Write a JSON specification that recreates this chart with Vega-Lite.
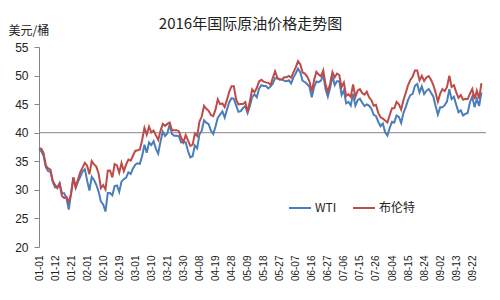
{
"$schema": "https://vega.github.io/schema/vega-lite/v6.json",
"width": 447, "height": 200,
"autosize": {"type": "none"},
"padding": {"left": 39, "top": 47, "right": 14, "bottom": 53},
"background": "white",
"title": {"text": "2016年国际原油价格走势图", "font": "Noto Sans CJK SC", "fontSize": 15, "fontWeight": "normal", "color": "#222222", "anchor": "middle", "frame": "group", "dx": -12, "dy": 14, "offset": 6},
"config": {"view": {"stroke": null}, "font": "Liberation Sans",
 "axisY": {"title": "美元/桶", "titleAngle": 0, "titleAlign": "left", "titleBaseline": "alphabetic", "titleX": -31, "titleY": -13, "titleFont": "Noto Sans CJK SC", "titleFontSize": 12, "titleFontWeight": "normal", "titleColor": "#222222",
    "values": [20, 25, 30, 35, 40, 45, 50, 55], "labelOverlap": false, "grid": false, "domainColor": "#868686", "tickColor": "#868686", "tickSize": 5, "labelPadding": 6, "labelFontSize": 12, "labelColor": "#222222", "labelFont": "Liberation Sans"}},
"layer": [
{"data": {"values": [{"y": 40}]},
 "mark": {"type": "rule", "color": "#868686", "strokeWidth": 1},
 "encoding": {"y": {"datum": 40, "type": "quantitative", "scale": {"domain": [20, 55], "nice": false, "zero": false},
   "axis": {"title": "美元/桶", "values": [20, 25, 30, 35, 40, 45, 50, 55], "tickCount": 8}}}},
{"data": {"values": [
{"d":"01-01","WTI":37.04,"布伦特":37.28},{"d":"01-04","WTI":36.76,"布伦特":37.22},{"d":"01-05","WTI":35.97,"布伦特":36.42},{"d":"01-06","WTI":33.97,"布伦特":34.23},{"d":"01-07","WTI":33.27,"布伦特":33.75},{"d":"01-08","WTI":33.16,"布伦特":33.55},
{"d":"01-11","WTI":31.41,"布伦特":31.55},{"d":"01-12","WTI":30.44,"布伦特":30.86},{"d":"01-13","WTI":30.48,"布伦特":30.31},{"d":"01-14","WTI":31.2,"布伦特":31.03},{"d":"01-15","WTI":29.42,"布伦特":28.94},
{"d":"01-18","WTI":29.42,"布伦特":28.55},{"d":"01-19","WTI":28.46,"布伦特":28.76},{"d":"01-20","WTI":26.55,"布伦特":27.88},{"d":"01-21","WTI":29.53,"布伦特":29.25},{"d":"01-22","WTI":32.19,"布伦特":32.18},
{"d":"01-25","WTI":30.34,"布伦特":30.5},{"d":"01-26","WTI":31.45,"布伦特":31.8},{"d":"01-27","WTI":32.3,"布伦特":33.1},{"d":"01-28","WTI":33.22,"布伦特":33.89},{"d":"01-29","WTI":33.62,"布伦特":34.74},
{"d":"02-01","WTI":31.62,"布伦特":34.24},{"d":"02-02","WTI":29.88,"布伦特":32.72},{"d":"02-03","WTI":32.28,"布伦特":35.04},{"d":"02-04","WTI":31.72,"布伦特":34.46},{"d":"02-05","WTI":30.89,"布伦特":34.06},
{"d":"02-08","WTI":29.69,"布伦特":32.88},{"d":"02-09","WTI":27.94,"布伦特":30.32},{"d":"02-10","WTI":27.45,"布伦特":30.84},{"d":"02-11","WTI":26.21,"布伦特":30.06},{"d":"02-12","WTI":29.44,"布伦特":33.36},
{"d":"02-15","WTI":29.44,"布伦特":33.39},{"d":"02-16","WTI":29.04,"布伦特":32.18},{"d":"02-17","WTI":30.66,"布伦特":34.5},{"d":"02-18","WTI":30.77,"布伦特":34.28},{"d":"02-19","WTI":29.64,"布伦特":33.01},
{"d":"02-22","WTI":31.48,"布伦特":34.69},{"d":"02-23","WTI":31.87,"布伦特":33.27},{"d":"02-24","WTI":32.15,"布伦特":34.41},{"d":"02-25","WTI":33.07,"布伦特":35.29},{"d":"02-26","WTI":32.78,"布伦特":35.1},
{"d":"02-29","WTI":33.75,"布伦特":35.97},
{"d":"03-01","WTI":34.4,"布伦特":36.81},{"d":"03-02","WTI":34.66,"布伦特":36.93},{"d":"03-03","WTI":34.57,"布伦特":37.07},{"d":"03-04","WTI":35.92,"布伦特":38.72},
{"d":"03-07","WTI":37.9,"布伦特":40.84},{"d":"03-08","WTI":36.5,"布伦特":39.65},{"d":"03-09","WTI":38.29,"布伦特":41.07},{"d":"03-10","WTI":37.84,"布伦特":40.05},{"d":"03-11","WTI":38.5,"布伦特":40.39},
{"d":"03-14","WTI":37.18,"布伦特":39.53},{"d":"03-15","WTI":36.34,"布伦特":38.74},{"d":"03-16","WTI":38.46,"布伦特":40.33},{"d":"03-17","WTI":40.2,"布伦特":41.54},{"d":"03-18","WTI":39.44,"布伦特":41.2},
{"d":"03-21","WTI":39.91,"布伦特":41.54},{"d":"03-22","WTI":41.45,"布伦特":41.79},{"d":"03-23","WTI":39.79,"布伦特":40.47},{"d":"03-24","WTI":39.46,"布伦特":40.44},{"d":"03-25","WTI":39.46,"布伦特":40.44},
{"d":"03-28","WTI":39.39,"布伦特":40.27},{"d":"03-29","WTI":38.28,"布伦特":39.14},{"d":"03-30","WTI":38.32,"布伦特":38.32},{"d":"03-31","WTI":38.34,"布伦特":39.6},
{"d":"04-01","WTI":36.79,"布伦特":38.67},
{"d":"04-04","WTI":35.7,"布伦特":37.69},{"d":"04-05","WTI":35.89,"布伦特":37.87},{"d":"04-06","WTI":37.75,"布伦特":39.84},{"d":"04-07","WTI":37.26,"布伦特":39.43},{"d":"04-08","WTI":39.72,"布伦特":41.94},
{"d":"04-11","WTI":40.36,"布伦特":42.83},{"d":"04-12","WTI":42.17,"布伦特":44.69},{"d":"04-13","WTI":41.76,"布伦特":44.18},{"d":"04-14","WTI":41.5,"布伦特":43.84},{"d":"04-15","WTI":40.36,"布伦特":43.1},
{"d":"04-18","WTI":39.78,"布伦特":42.91},{"d":"04-19","WTI":41.08,"布伦特":44.03},{"d":"04-20","WTI":42.63,"布伦特":45.85},{"d":"04-21","WTI":43.18,"布伦特":45.0},{"d":"04-22","WTI":43.73,"布伦特":45.11},
{"d":"04-25","WTI":42.64,"布伦特":44.48},{"d":"04-26","WTI":44.04,"布伦特":45.74},{"d":"04-27","WTI":45.33,"布伦特":47.18},{"d":"04-28","WTI":46.03,"布伦特":48.14},{"d":"04-29","WTI":45.92,"布伦特":48.13},
{"d":"05-02","WTI":44.78,"布伦特":45.83},{"d":"05-03","WTI":43.65,"布伦特":44.97},{"d":"05-04","WTI":43.78,"布伦特":45.01},{"d":"05-05","WTI":44.32,"布伦特":45.01},{"d":"05-06","WTI":44.66,"布伦特":45.37},
{"d":"05-09","WTI":43.44,"布伦特":43.63},{"d":"05-10","WTI":44.66,"布伦特":45.52},{"d":"05-11","WTI":46.23,"布伦特":47.59},{"d":"05-12","WTI":46.7,"布伦特":47.08},{"d":"05-13","WTI":46.21,"布伦特":47.83},
{"d":"05-16","WTI":47.72,"布伦特":48.97},{"d":"05-17","WTI":48.31,"布伦特":49.28},{"d":"05-18","WTI":48.19,"布伦特":48.93},{"d":"05-19","WTI":48.16,"布伦特":48.81},{"d":"05-20","WTI":47.75,"布伦特":48.72},
{"d":"05-23","WTI":48.08,"布伦特":48.35},{"d":"05-24","WTI":48.62,"布伦特":49.61},{"d":"05-25","WTI":49.56,"布伦特":50.74},{"d":"05-26","WTI":49.48,"布伦特":49.59},{"d":"05-27","WTI":49.33,"布伦特":49.32},
{"d":"05-30","WTI":49.33,"布伦特":49.32},{"d":"05-31","WTI":49.1,"布伦特":49.69},
{"d":"06-01","WTI":49.01,"布伦特":49.72},{"d":"06-02","WTI":49.17,"布伦特":49.95},{"d":"06-03","WTI":48.62,"布伦特":49.64},
{"d":"06-06","WTI":49.69,"布伦特":50.55},{"d":"06-07","WTI":50.36,"布伦特":51.44},{"d":"06-08","WTI":51.23,"布伦特":52.51},{"d":"06-09","WTI":50.56,"布伦特":51.95},{"d":"06-10","WTI":49.07,"布伦特":50.54},
{"d":"06-13","WTI":48.88,"布伦特":50.35},{"d":"06-14","WTI":48.49,"布伦特":49.83},{"d":"06-15","WTI":48.01,"布伦特":48.97},{"d":"06-16","WTI":46.21,"布伦特":47.19},{"d":"06-17","WTI":47.98,"布伦特":49.17},
{"d":"06-20","WTI":48.96,"布伦特":50.65},{"d":"06-21","WTI":48.85,"布伦特":50.2},{"d":"06-22","WTI":49.13,"布伦特":49.88},{"d":"06-23","WTI":50.11,"布伦特":50.91},{"d":"06-24","WTI":47.64,"布伦特":48.41},
{"d":"06-27","WTI":46.33,"布伦特":47.16},{"d":"06-28","WTI":47.85,"布伦特":48.58},{"d":"06-29","WTI":49.88,"布伦特":50.61},{"d":"06-30","WTI":48.33,"布伦特":49.68},
{"d":"07-01","WTI":48.99,"布伦特":50.35},
{"d":"07-04","WTI":48.99,"布伦特":50.1},{"d":"07-05","WTI":46.6,"布伦特":47.96},{"d":"07-06","WTI":47.43,"布伦特":48.8},{"d":"07-07","WTI":45.14,"布伦特":46.4},{"d":"07-08","WTI":45.41,"布伦特":46.76},
{"d":"07-11","WTI":44.76,"布伦特":46.25},{"d":"07-12","WTI":46.8,"布伦特":48.47},{"d":"07-13","WTI":44.75,"布伦特":46.26},{"d":"07-14","WTI":45.68,"布伦特":47.37},{"d":"07-15","WTI":45.95,"布伦特":47.61},
{"d":"07-18","WTI":45.24,"布伦特":46.96},{"d":"07-19","WTI":44.65,"布伦特":46.66},{"d":"07-20","WTI":44.94,"布伦特":47.17},{"d":"07-21","WTI":44.75,"布伦特":46.2},{"d":"07-22","WTI":44.19,"布伦特":45.69},
{"d":"07-25","WTI":43.13,"布伦特":44.72},{"d":"07-26","WTI":42.92,"布伦特":44.87},{"d":"07-27","WTI":41.92,"布伦特":43.47},{"d":"07-28","WTI":41.14,"布伦特":42.7},{"d":"07-29","WTI":41.6,"布伦特":42.46},
{"d":"08-01","WTI":40.06,"布伦特":42.14},{"d":"08-02","WTI":39.51,"布伦特":41.8},{"d":"08-03","WTI":40.83,"布伦特":43.1},{"d":"08-04","WTI":41.93,"布伦特":44.29},{"d":"08-05","WTI":41.8,"布伦特":44.27},
{"d":"08-08","WTI":43.02,"布伦特":45.39},{"d":"08-09","WTI":42.77,"布伦特":44.98},{"d":"08-10","WTI":41.71,"布伦特":44.05},{"d":"08-11","WTI":43.49,"布伦特":45.72},{"d":"08-12","WTI":44.49,"布伦特":46.97},
{"d":"08-15","WTI":45.74,"布伦特":48.35},{"d":"08-16","WTI":46.58,"布伦特":49.23},{"d":"08-17","WTI":46.79,"布伦特":49.85},{"d":"08-18","WTI":48.22,"布伦特":50.89},{"d":"08-19","WTI":48.52,"布伦特":50.88},
{"d":"08-22","WTI":47.05,"布伦特":49.16},{"d":"08-23","WTI":48.1,"布伦特":49.96},{"d":"08-24","WTI":46.77,"布伦特":49.05},{"d":"08-25","WTI":47.33,"布伦特":49.67},{"d":"08-26","WTI":47.64,"布伦特":49.92},
{"d":"08-29","WTI":46.98,"布伦特":49.26},{"d":"08-30","WTI":46.35,"布伦特":48.37},{"d":"08-31","WTI":44.7,"布伦特":47.04},
{"d":"09-01","WTI":43.16,"布伦特":45.45},{"d":"09-02","WTI":44.44,"布伦特":46.83},
{"d":"09-05","WTI":44.44,"布伦特":47.63},{"d":"09-06","WTI":44.83,"布伦特":47.26},{"d":"09-07","WTI":45.5,"布伦特":48.0},{"d":"09-08","WTI":47.62,"布伦特":49.99},{"d":"09-09","WTI":45.88,"布伦特":48.01},
{"d":"09-12","WTI":46.29,"布伦特":48.32},{"d":"09-13","WTI":44.9,"布伦特":47.1},{"d":"09-14","WTI":43.58,"布伦特":46.1},{"d":"09-15","WTI":43.91,"布伦特":46.59},{"d":"09-16","WTI":43.03,"布伦特":45.77},
{"d":"09-19","WTI":43.3,"布伦特":45.95},{"d":"09-20","WTI":43.44,"布伦特":45.88},{"d":"09-21","WTI":45.34,"布伦特":46.83},{"d":"09-22","WTI":46.32,"布伦特":47.65},{"d":"09-23","WTI":44.48,"布伦特":45.89},
{"d":"09-26","WTI":45.93,"布伦特":47.35},{"d":"09-27","WTI":44.67,"布伦特":45.97},{"d":"09-28","WTI":47.05,"布伦特":48.69},{"d":"09-29","WTI":null,"布伦特":null},{"d":"09-30","WTI":null,"布伦特":null}
]},
 "transform": [{"fold": ["WTI", "布伦特"], "as": ["s", "v"]}],
 "mark": {"type": "line", "strokeWidth": 2, "invalid": "break-paths-show-domains"},
 "encoding": {
  "x": {"field": "d", "type": "ordinal", "sort": null, "scale": {"type": "point", "padding": 0},
   "axis": {"title": null, "values": ["01-01","01-12","01-21","02-01","02-10","02-19","03-01","03-10","03-21","03-30","04-08","04-19","04-28","05-09","05-18","05-27","06-07","06-16","06-27","07-06","07-15","07-26","08-04","08-15","08-24","09-02","09-13","09-22"],
    "labelAngle": -90, "domain": false, "ticks": false, "grid": false, "labelPadding": 8, "labelFontSize": 10, "labelColor": "#222222", "labelFont": "Liberation Sans"}},
  "y": {"field": "v", "type": "quantitative", "scale": {"domain": [20, 55], "nice": false, "zero": false},
   "axis": {"title": "美元/桶", "values": [20, 25, 30, 35, 40, 45, 50, 55], "tickCount": 8}},
  "color": {"field": "s", "type": "nominal", "scale": {"domain": ["WTI", "布伦特"], "range": ["#4A7EBB", "#BE4B48"]},
   "legend": {"title": null, "orient": "none", "legendX": 249, "legendY": 149, "direction": "horizontal", "symbolType": "stroke", "symbolSize": 484, "symbolStrokeWidth": 2, "labelFontSize": 12, "labelFont": "Noto Sans CJK SC", "labelColor": "#222222", "columnPadding": 12, "labelOffset": 3}}
 }}
]
}
